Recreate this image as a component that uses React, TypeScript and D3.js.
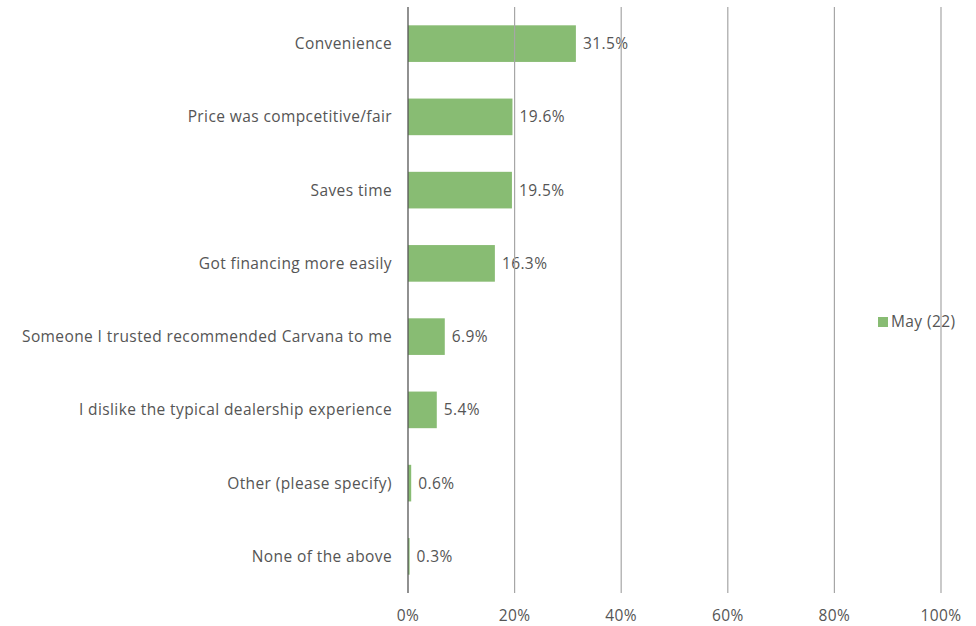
import React, { useEffect, useRef } from 'react';
import * as d3 from 'd3';

// dati
const categories = [
  'Convenience',
  'Price was compcetitive/fair',
  'Saves time',
  'Got financing more easily',
  'Someone I trusted recommended Carvana to me',
  'I dislike the typical dealership experience',
  'Other (please specify)',
  'None of the above',
];
const values = [31.5, 19.6, 19.5, 16.3, 6.9, 5.4, 0.6, 0.3];
const ticks = [0, 20, 40, 60, 80, 100];
const seriesName = 'May (22)';

const App: React.FC = () => {
  const ref = useRef<SVGSVGElement>(null);

  useEffect(() => {
    const svg = d3.select(ref.current);
    svg.selectAll('*').remove();

    const width = 976;
    const height = 626;
    const left = 408;
    const right = 941;
    const top = 7;
    const bottom = 593;
    const font = '"Open Sans", sans-serif';
    const fontSize = '15.5px';
    const spacing = '0.4px';
    const textColor = '#555';
    const barColor = '#88bc73';

    const x = d3.scaleLinear().domain([0, 100]).range([left, right]);
    const y = d3.scaleBand<string>().domain(categories).range([top, bottom]).paddingInner(0.5).paddingOuter(0.25);

    svg.attr('width', width).attr('height', height);

    // barre
    svg.append('g')
      .selectAll('rect')
      .data(values)
      .enter()
      .append('rect')
      .attr('x', x(0))
      .attr('y', (_, i) => y(categories[i])!)
      .attr('width', d => x(d) - x(0))
      .attr('height', y.bandwidth())
      .attr('fill', barColor);

    // etichette valori
    svg.append('g')
      .selectAll('text')
      .data(values)
      .enter()
      .append('text')
      .attr('x', d => x(d) + 7)
      .attr('y', (_, i) => y(categories[i])! + y.bandwidth() / 2)
      .attr('dy', '0.35em')
      .style('font-family', font)
      .style('font-size', fontSize)
      .style('letter-spacing', spacing)
      .attr('fill', textColor)
      .text(d => d.toFixed(1) + '%');

    // etichette categorie
    svg.append('g')
      .selectAll('text')
      .data(categories)
      .enter()
      .append('text')
      .attr('x', left - 16)
      .attr('y', d => y(d)! + y.bandwidth() / 2)
      .attr('dy', '0.35em')
      .attr('text-anchor', 'end')
      .style('font-family', font)
      .style('font-size', fontSize)
      .style('letter-spacing', spacing)
      .attr('fill', textColor)
      .text(d => d);

    // legenda
    const legend = svg.append('g').attr('transform', 'translate(878, 322)');
    legend.append('rect')
      .attr('x', 0)
      .attr('y', -5)
      .attr('width', 10)
      .attr('height', 10)
      .attr('fill', barColor);
    legend.append('text')
      .attr('x', 13)
      .attr('y', 0)
      .attr('dy', '0.35em')
      .style('font-family', font)
      .style('font-size', fontSize)
      .style('letter-spacing', spacing)
      .attr('fill', textColor)
      .text(seriesName);

    // griglia (sopra le barre)
    svg.append('g')
      .selectAll('line')
      .data(ticks)
      .enter()
      .append('line')
      .attr('x1', d => x(d))
      .attr('x2', d => x(d))
      .attr('y1', top)
      .attr('y2', bottom)
      .attr('stroke', d => (d === 0 ? '#555' : '#a6a6a6'))
      .attr('stroke-width', d => (d === 0 ? 1.3 : 1.2));

    // etichette asse x
    svg.append('g')
      .selectAll('text')
      .data(ticks)
      .enter()
      .append('text')
      .attr('x', d => x(d))
      .attr('y', 616)
      .attr('dy', '0.35em')
      .attr('text-anchor', 'middle')
      .style('font-family', font)
      .style('font-size', fontSize)
      .style('letter-spacing', spacing)
      .attr('fill', textColor)
      .text(d => d + '%');
  }, []);

  return (
    <div style={{ position: 'absolute', left: 0, top: 0 }}>
      <svg ref={ref} style={{ display: 'block' }} />
    </div>
  );
};

export default App;
